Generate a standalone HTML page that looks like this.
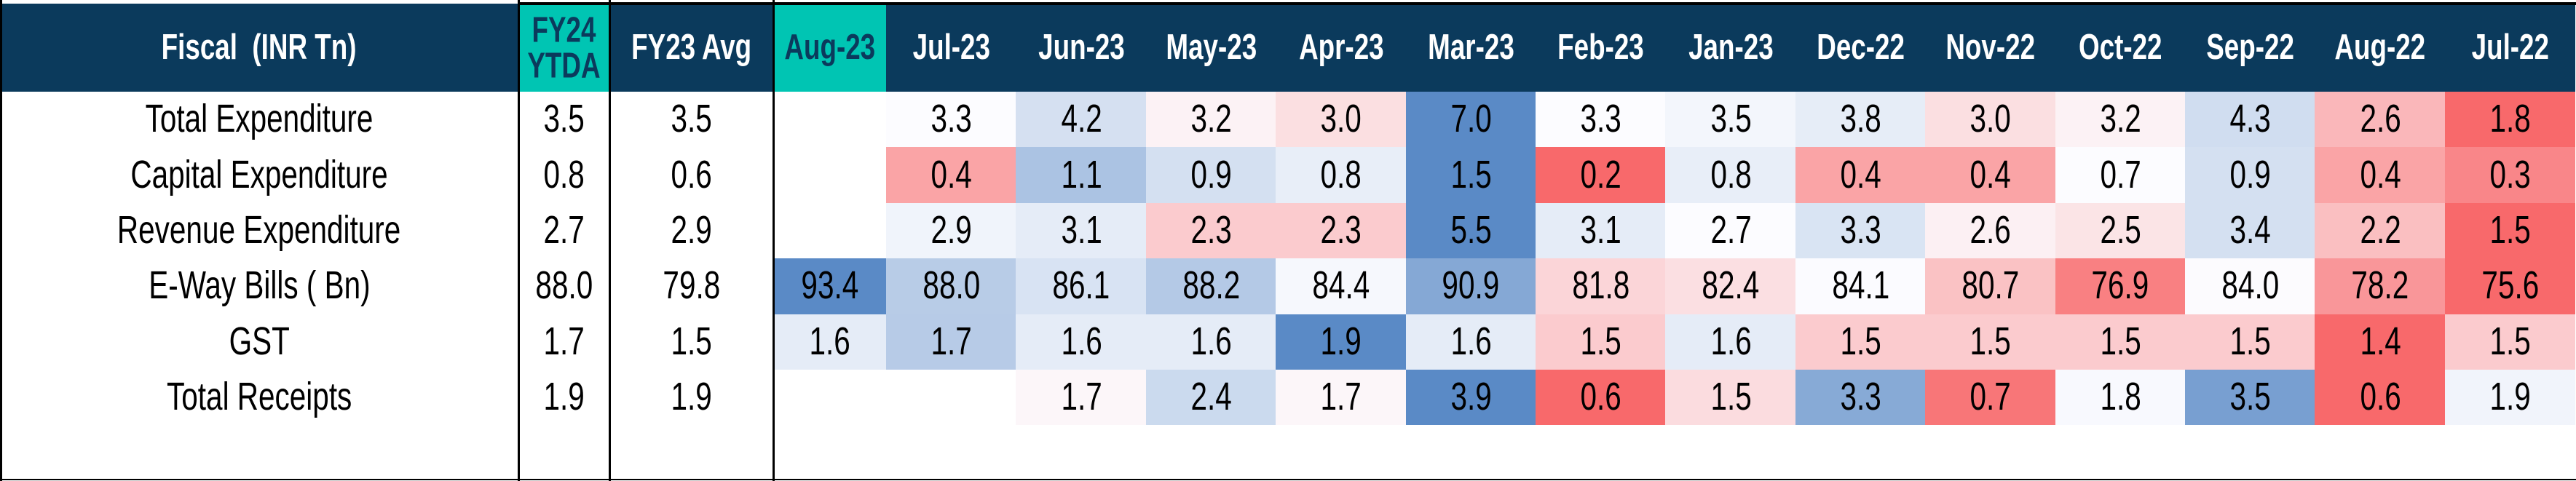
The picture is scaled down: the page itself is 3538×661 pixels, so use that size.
<!DOCTYPE html>
<html><head><meta charset="utf-8"><style>
body{margin:0;width:3538px;height:661px;background:#fff;position:relative;overflow:hidden;font-family:"Liberation Sans",sans-serif}
.a{position:absolute;box-sizing:border-box;display:flex;align-items:center;justify-content:center;text-align:center}
.a span{display:inline-block;transform:scale(0.92,1.22)}
.h{background:#0b3a5c;color:#fff;font-weight:bold;font-size:40px}
.t{background:#00c5b3;color:#0b3a5c;font-weight:bold;font-size:40px}
.c{font-size:44px;color:#000}
.ln{position:absolute;background:#000}
</style></head><body>
<div id="root"></div>
<script>
const months=["Aug-23","Jul-23","Jun-23","May-23","Apr-23","Mar-23","Feb-23","Jan-23","Dec-22","Nov-22","Oct-22","Sep-22","Aug-22","Jul-22"];
const rowLabels=["Total Expenditure","Capital Expenditure","Revenue Expenditure","E-Way Bills ( Bn)","GST","Total Receipts"];
const fy24=["3.5","0.8","2.7","88.0","1.7","1.9"];
const fy23=["3.5","0.6","2.9","79.8","1.5","1.9"];
const totalExp=[null,3.3,4.2,3.2,3.0,7.0,3.3,3.5,3.8,3.0,3.2,4.3,2.6,1.8];
const capExp=[null,0.4,1.1,0.9,0.8,1.5,0.2,0.8,0.4,0.4,0.7,0.9,0.4,0.3];
const revExp=[null,2.9,3.1,2.3,2.3,5.5,3.1,2.7,3.3,2.6,2.5,3.4,2.2,1.5];
const eway=[93.4,88.0,86.1,88.2,84.4,90.9,81.8,82.4,84.1,80.7,76.9,84.0,78.2,75.6];
const gst=[1.6,1.7,1.6,1.6,1.9,1.6,1.5,1.6,1.5,1.5,1.5,1.5,1.4,1.5];
const receipts=[null,null,1.7,2.4,1.7,3.9,0.6,1.5,3.3,0.7,1.8,3.5,0.6,1.9];
const rows=[totalExp,capExp,revExp,eway,gst,receipts];
const root=document.getElementById('root');
function add(cls,x,y,w,h,txt,name){const d=document.createElement('div');d.className='a '+cls;
d.style.left=x+'px';d.style.top=y+'px';d.style.width=w+'px';d.style.height=h+'px';
if(txt!==null)d.innerHTML='<span>'+txt+'</span>';


root.appendChild(d);return d;}
const HY=5,HH=121,RY=126,RH=76.4;
const colX=i=>i===0?1062:1217+(i-1)*178.4;
const colW=i=>i===0?155:178.4;
add('h',0,HY,712,HH,'Fiscal&nbsp;&nbsp;(INR Tn)','header-fiscal');
add('t',712,HY,125,HH,'FY24<br>YTDA','header-fy24-ytda').style.lineHeight='1.0';
add('h',837,HY,225,HH,'FY23 Avg','header-fy23-avg');
months.forEach((m,i)=>{add(i===0?'t':'h',colX(i),HY,colW(i)+1,HH,m,'header-'+m.toLowerCase());});
function lerp(a,b,t){return a.map((v,k)=>Math.round(v+(b[k]-v)*t));}
const RED=[248,105,107],MID=[252,252,255],BLUE=[90,138,198];
function color(v,arr){const vals=arr.filter(x=>x!==null).sort((a,b)=>a-b);
const mn=vals[0],mx=vals[vals.length-1];const n=vals.length;
const md=n%2?vals[(n-1)/2]:(vals[n/2-1]+vals[n/2])/2;let c;
if(v<=md)c=lerp(RED,MID,md===mn?1:(v-mn)/(md-mn));else c=lerp(MID,BLUE,mx===md?0:(v-md)/(mx-md));
return 'rgb('+c.join(',')+')';}
rows.forEach((arr,r)=>{const y=RY+r*RH;
add('c',0,y,712,RH,rowLabels[r],'row-label-'+r);
add('c',712,y,125,RH,fy24[r],'fy24-value-'+r);
add('c',837,y,225,RH,fy23[r],'fy23-value-'+r);
arr.forEach((v,i)=>{if(v===null)return;const d=add('c',colX(i),y,colW(i)+1,RH,v.toFixed(1),'cell-'+r+'-'+i);d.style.background=color(v,arr);});
});
function line(x,y,w,h,name){const d=document.createElement('div');d.className='ln';d.style.left=x+'px';d.style.top=y+'px';d.style.width=w+'px';d.style.height=h+'px';


root.appendChild(d);}
line(0,0,3,661,'left-border');
line(711,0,3,661,'divider-1');
line(836,0,3,661,'divider-2');
line(1061,0,3,661,'divider-3');
line(712,3,2826,4,'top-border');
line(0,658,3538,2,'bottom-border');
</script>
</body></html>
